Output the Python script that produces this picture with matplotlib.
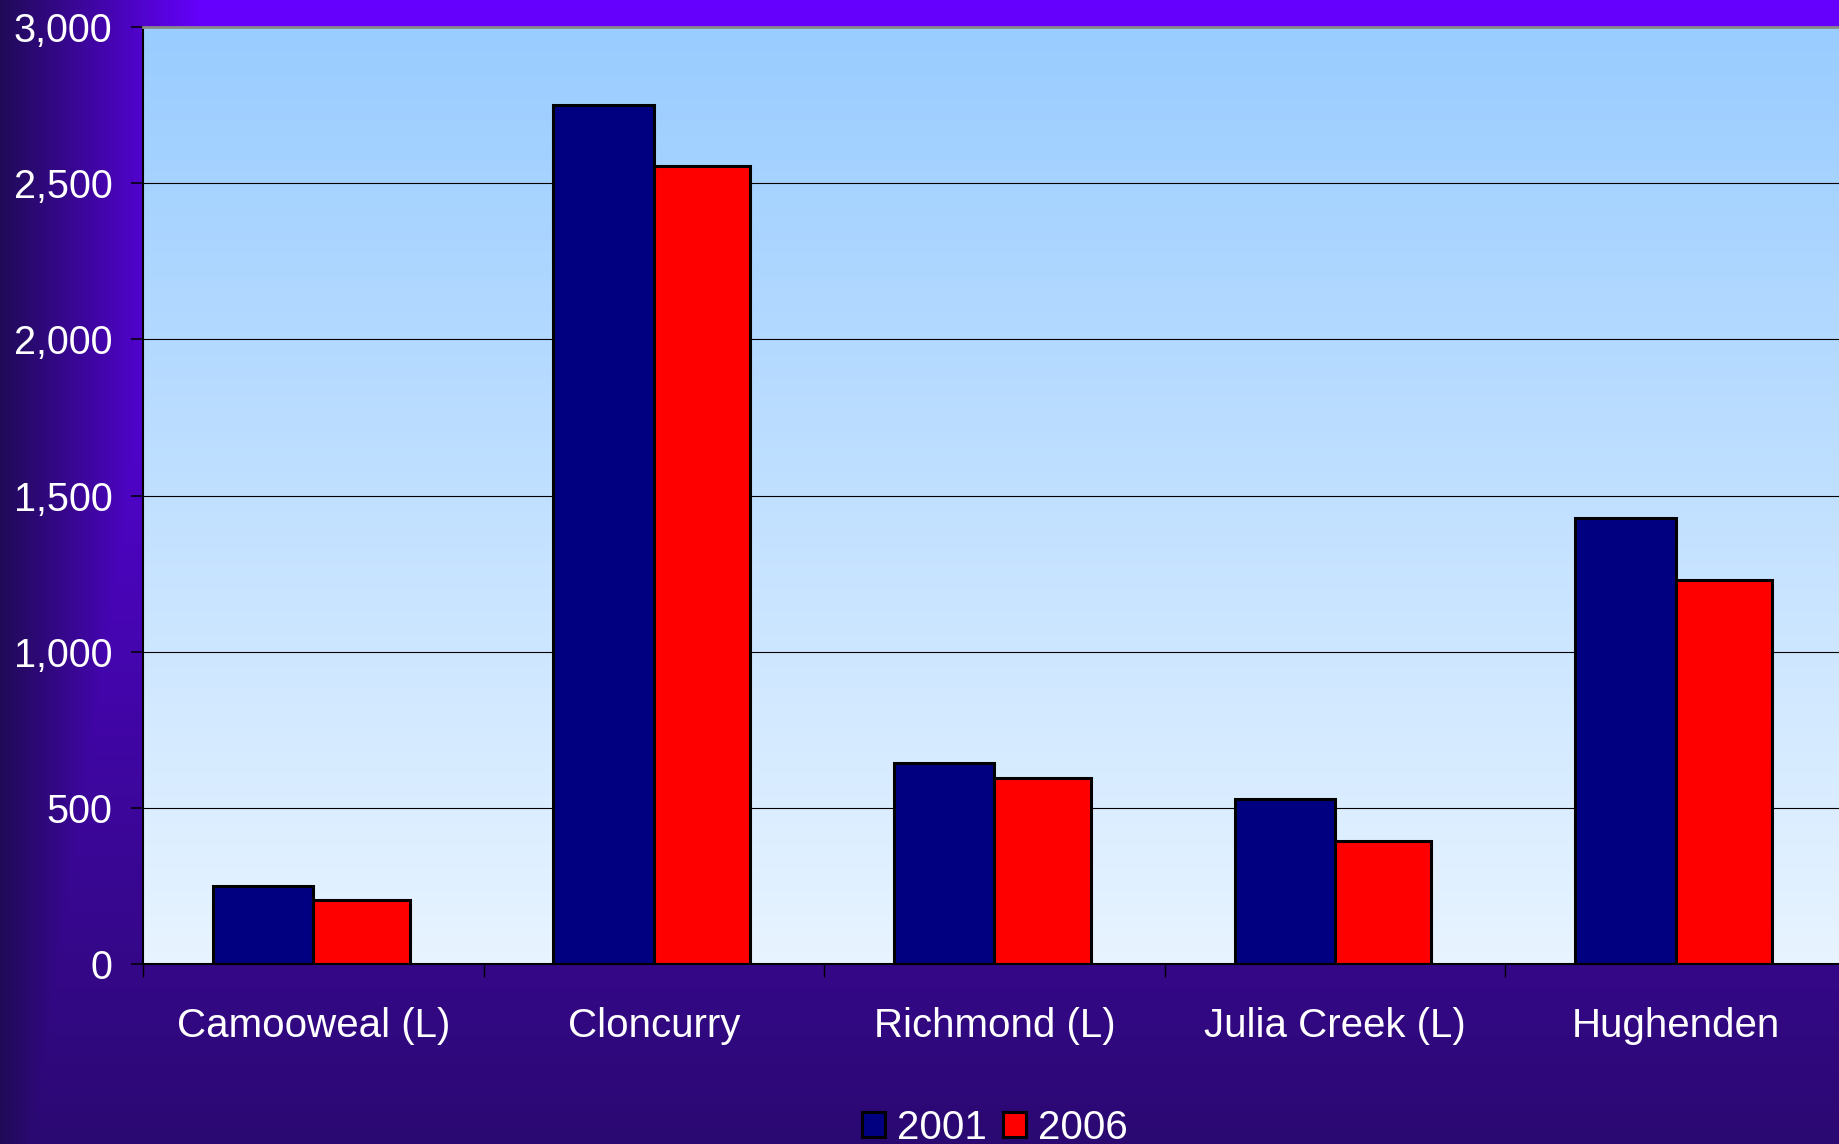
import numpy as np
import matplotlib
matplotlib.use("Agg")
import matplotlib.pyplot as plt
from matplotlib.patches import Patch
from matplotlib.colors import to_rgb

# ---- data ----
categories = ["Camooweal (L)", "Cloncurry", "Richmond (L)", "Julia Creek (L)", "Hughenden"]
series_names = ["2001", "2006"]
values_2001 = [250, 2750, 643, 527, 1428]
values_2006 = [205, 2556, 595, 394, 1229]
y_ticks = [0, 500, 1000, 1500, 2000, 2500, 3000]

plt.rcParams['font.family'] = ['Liberation Sans', 'DejaVu Sans']

W, H, DPI = 1840, 1144, 100
fig = plt.figure(figsize=(W / DPI, H / DPI), dpi=DPI)

# ---- figure background gradient ----
bg = fig.add_axes([0, 0, 1, 1], zorder=-10)
bg.set_axis_off()
xs = np.linspace(0, 1, 400)
ys = np.linspace(0, 1, 300)
fx = np.interp(xs, [0, 0.078, 0.11, 1], [0.02, 0.72, 1, 1])
fy = 1 - 0.83 * ys
s = np.minimum(fx[None, :], fy[:, None])
dark = np.array(to_rgb("#1f0b55"))
bright = np.array(to_rgb("#6600ff"))
img = dark[None, None, :] + s[:, :, None] * (bright - dark)[None, None, :]
bg.imshow(img, extent=[0, 1, 0, 1], aspect='auto', origin='upper', interpolation='bilinear')
bg.set_xlim(0, 1)
bg.set_ylim(0, 1)

# ---- main axes ----
left = 143 / W
bottom = 1 - 964 / H
width = 1703 / W
height = (964 - 27) / H
ax = fig.add_axes([left, bottom, width, height])
ax.set_facecolor("none")

n = len(categories)
x = np.arange(n)
ax.set_xlim(-0.5, n - 0.5)
ax.set_ylim(0, 3000)

# plot-area vertical gradient
top_c = np.array(to_rgb("#99ccff"))
bot_c = np.array(to_rgb("#e8f4ff"))
t = np.linspace(0, 1, 256)[:, None, None]
grad = top_c[None, None, :] + t * (bot_c - top_c)[None, None, :]
ax.imshow(grad, extent=[-0.5, n - 0.5, 0, 3000], aspect='auto', origin='upper',
          zorder=0, interpolation='bilinear')
ax.set_aspect('auto')

bw1 = 0.295
bw2 = 0.283
ax.bar(x, values_2001, width=-bw1, align='edge', color="#000080", edgecolor="black",
       linewidth=2.2, zorder=3, label=series_names[0])
ax.bar(x, values_2006, width=bw2, align='edge', color="#ff0000", edgecolor="black",
       linewidth=2.2, zorder=3, label=series_names[1])

# grid
for yv in y_ticks[1:-1]:
    ax.axhline(yv, color="black", linewidth=0.8, zorder=1)

# spines
ax.spines['top'].set_color("#888888")
ax.spines['top'].set_linewidth(2.0)
ax.spines['right'].set_visible(False)
ax.spines['left'].set_color("black")
ax.spines['left'].set_linewidth(1.5)
ax.spines['bottom'].set_color("black")
ax.spines['bottom'].set_linewidth(1.5)
for sp in ax.spines.values():
    sp.set_zorder(4)

# ticks
ax.set_yticks(y_ticks)
ax.set_yticklabels([f"{v:,}" for v in y_ticks])
ax.tick_params(axis='y', direction='out', length=8.6, width=1.1, color='black',
               labelsize=28.5, labelcolor='white', pad=13.5)
ax.set_xticks(x)
ax.set_xticklabels(categories)
ax.tick_params(axis='x', which='major', length=0, labelsize=29, labelcolor='white', pad=30.7)
ax.set_xticks(np.arange(-0.5, n, 1.0), minor=True)
ax.tick_params(axis='x', which='minor', direction='out', length=9.4, width=1.0, color='black')

# legend
handles = [Patch(facecolor="#000080", edgecolor="black", linewidth=2.2),
           Patch(facecolor="#ff0000", edgecolor="black", linewidth=2.2)]
leg = fig.legend(handles, series_names, loc='center', ncol=2, frameon=False,
                 bbox_to_anchor=(994.5 / W, 1 - 1128 / H), fontsize=29,
                 handlelength=0.57, handleheight=0.57, handletextpad=0.3,
                 columnspacing=0.4, borderpad=0, borderaxespad=0)
for txt in leg.get_texts():
    txt.set_color('white')

fig.savefig("out.png", dpi=DPI)
